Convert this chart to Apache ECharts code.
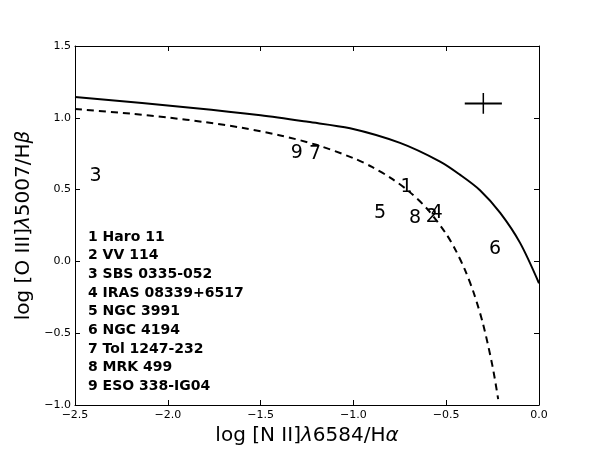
<!DOCTYPE html>
<html>
<head>
<meta charset="utf-8">
<script src="https://cdn.jsdelivr.net/npm/echarts@6/dist/echarts.min.js"></script>
<style>html,body{margin:0;padding:0;background:#fff}#c{width:600px;height:451px}</style>
</head>
<body>
<div id="c"></div>
<script>
// Solid demarcation curve
const solidX = [-2.5, -1.863, -1.5, -1.245, -1.018, -0.749, -0.533, -0.426, -0.318, -0.209, -0.102, 0.0];
const solidY = [1.145, 1.069, 1.018, 0.972, 0.927, 0.825, 0.695, 0.604, 0.496, 0.338, 0.129, -0.152];
// Dashed demarcation curve
const dashX = [-2.5, -2.2, -2.0, -1.8, -1.6, -1.4, -1.2, -1.0, -0.9, -0.8, -0.7, -0.6, -0.5, -0.45, -0.4, -0.35, -0.3, -0.25, -0.22];
const dashY = [1.061, 1.029, 1.002, 0.970, 0.930, 0.879, 0.812, 0.719, 0.658, 0.582, 0.487, 0.362, 0.191, 0.080, -0.056, -0.225, -0.443, -0.733, -0.959];
// Galaxy number labels
const galaxyIds = ['1', '2', '3', '4', '5', '6', '7', '8', '9'];
const galaxyX = [-0.713, -0.578, -2.389, -0.551, -0.857, -0.237, -1.207, -0.668, -1.305];
const galaxyY = [0.519, 0.306, 0.595, 0.334, 0.334, 0.083, 0.746, 0.299, 0.755];
const galaxyNames = ['Haro 11', 'VV 114', 'SBS 0335-052', 'IRAS 08339+6517', 'NGC 3991', 'NGC 4194', 'Tol 1247-232', 'MRK 499', 'ESO 338-IG04'];
// Typical error bar
const errX = -0.3, errY = 1.1, errDx = 0.1, errDy = 0.072;

const zip = (a, b) => a.map((v, i) => [v, b[i]]);
const fmt = v => (Math.round(v * 10) / 10).toFixed(1).replace('-', '\u2212');
const FONT = 'DejaVu Sans';

const chart = echarts.init(document.getElementById('c'), null, {renderer: 'canvas'});

const legendGraphics = galaxyNames.map((n, i) => ({
  type: 'text', left: 88, top: 230 + i * 18.65,
  style: {text: galaxyIds[i] + ' ' + n, font: 'bold 14px "DejaVu Sans"', fill: '#000'}
}));

const axisCommon = {
  type: 'value', interval: 0.5,
  axisLine: {show: true, onZero: false, lineStyle: {color: '#000', width: 1}},
  axisTick: {show: true, inside: true, length: 5, lineStyle: {color: '#000', width: 1}},
  splitLine: {show: false}
};

chart.setOption({
  animation: false,
  backgroundColor: '#fff',
  grid: {left: 75, right: 61, top: 46, bottom: 46, containLabel: false},
  xAxis: [
    Object.assign({}, axisCommon, {min: -2.5, max: 0.0, position: 'bottom',
      axisLabel: {formatter: fmt, fontFamily: FONT, fontSize: 11, color: '#000', margin: 5},
      name: 'log [N II]{i|λ}6584/H{i|α}', nameLocation: 'middle', nameGap: 10,
      nameTextStyle: {fontFamily: FONT, fontSize: 20, color: '#000', verticalAlign: 'top',
        rich: {i: {fontFamily: FONT, fontSize: 20, fontStyle: 'italic', color: '#000'}}}}),
    Object.assign({}, axisCommon, {min: -2.5, max: 0.0, position: 'top', axisLabel: {show: false}})
  ],
  yAxis: [
    Object.assign({}, axisCommon, {min: -1.0, max: 1.5, position: 'left',
      axisLabel: {formatter: fmt, fontFamily: FONT, fontSize: 11, color: '#000', margin: 4},
      name: 'log [O III]{i|λ}5007/H{i|β}', nameLocation: 'middle', nameGap: 33, nameRotate: 90,
      nameTextStyle: {fontFamily: FONT, fontSize: 20, color: '#000',
        rich: {i: {fontFamily: FONT, fontSize: 20, fontStyle: 'italic', color: '#000'}}}}),
    Object.assign({}, axisCommon, {min: -1.0, max: 1.5, position: 'right', axisLabel: {show: false}})
  ],
  graphic: legendGraphics,
  series: [
    {type: 'line', data: zip(solidX, solidY), symbol: 'none', smooth: 0.3,
      lineStyle: {color: '#000', width: 2}, silent: true},
    {type: 'line', data: zip(dashX, dashY), symbol: 'none', smooth: 0.3,
      lineStyle: {color: '#000', width: 2, type: [7, 5]}, silent: true},
    {type: 'line', data: [[errX - errDx, errY], [errX + errDx, errY]], symbol: 'none',
      lineStyle: {color: '#000', width: 2}, silent: true},
    {type: 'line', data: [[errX, errY - errDy], [errX, errY + errDy]], symbol: 'none',
      lineStyle: {color: '#000', width: 1.5}, silent: true},
    {type: 'scatter', data: galaxyIds.map((id, i) => ({name: id, value: [galaxyX[i], galaxyY[i]]})),
      symbol: 'circle', symbolSize: 0, itemStyle: {color: '#000', opacity: 1},
      label: {show: true, position: 'inside', formatter: p => p.name, fontFamily: FONT, fontSize: 19,
        color: '#000', textBorderWidth: 0, opacity: 1},
      silent: true, z: 5}
  ]
});
</script>
</body>
</html>
